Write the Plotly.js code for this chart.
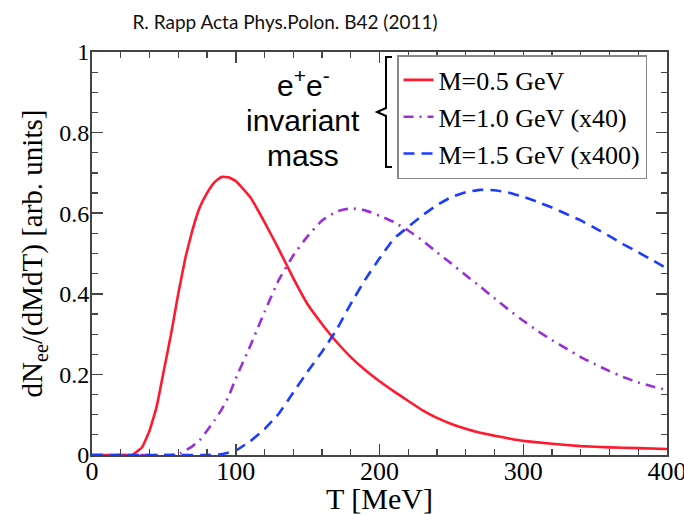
<!DOCTYPE html>
<html>
<head>
<meta charset="utf-8">
<script src="https://cdn.plot.ly/plotly-3.0.1.min.js"></script>
<style>html,body{margin:0;padding:0;background:#fff;}#chart{width:684px;height:515px;}</style>
</head>
<body>
<div id="chart"></div>
<script>
// Temperature grid [MeV] and dilepton rates (arb. units)
const T_red = [0, 10, 20, 28, 35, 40, 45, 50, 55, 60, 65, 70, 75, 80, 85, 90, 95, 100, 110, 120, 130, 140, 150, 160, 170, 180, 190, 200, 210, 220, 230, 240, 250, 260, 270, 280, 290, 300, 320, 340, 360, 380, 400];
const y_red = [0, 0, 0, 0, 0.02, 0.06, 0.12, 0.21, 0.30, 0.40, 0.49, 0.56, 0.615, 0.65, 0.676, 0.69, 0.689, 0.68, 0.64, 0.578, 0.51, 0.439, 0.374, 0.325, 0.281, 0.243, 0.211, 0.183, 0.158, 0.134, 0.111, 0.092, 0.077, 0.065, 0.055, 0.048, 0.041, 0.035, 0.028, 0.022, 0.019, 0.017, 0.015];

const T_purple = [0, 20, 40, 55, 62, 70, 75, 80, 85, 90, 95, 100, 110, 120, 130, 140, 150, 160, 170, 180, 190, 200, 210, 220, 230, 240, 250, 260, 270, 280, 290, 300, 310, 320, 330, 340, 350, 360, 370, 380, 390, 400];
const y_purple = [0, 0, 0, 0, 0.005, 0.022, 0.037, 0.06, 0.085, 0.112, 0.145, 0.19, 0.27, 0.355, 0.435, 0.495, 0.543, 0.582, 0.604, 0.612, 0.607, 0.594, 0.578, 0.557, 0.532, 0.503, 0.475, 0.446, 0.418, 0.389, 0.36, 0.333, 0.308, 0.285, 0.264, 0.243, 0.225, 0.208, 0.193, 0.18, 0.17, 0.161];

const T_blue = [0, 20, 40, 60, 80, 90, 100, 110, 120, 130, 140, 150, 160, 170, 180, 190, 200, 210, 220, 230, 240, 250, 260, 270, 280, 290, 300, 310, 320, 330, 340, 350, 360, 370, 380, 390, 400];
const y_blue = [0, 0, 0, 0, 0, 0.002, 0.011, 0.034, 0.064, 0.103, 0.155, 0.207, 0.256, 0.31, 0.375, 0.435, 0.488, 0.537, 0.566, 0.595, 0.62, 0.64, 0.652, 0.658, 0.657, 0.651, 0.641, 0.628, 0.614, 0.598, 0.582, 0.563, 0.543, 0.522, 0.503, 0.483, 0.463];

const seriesNames = ["M=0.5 GeV", "M=1.0 GeV (x40)", "M=1.5 GeV (x400)"];
const xTickVals = [0, 100, 200, 300, 400];
const yTickVals = [0, 0.2, 0.4, 0.6, 0.8, 1];
const yTickText = ["0", "0.2", "0.4", "0.6", "0.8", "1"];

const serif = "Liberation Serif, Times New Roman, serif";
const sans = "Liberation Sans, Arial, sans-serif";

const traces = [
  {x: T_red, y: y_red, name: seriesNames[0], mode: "lines",
   line: {color: "#ff1a2e", width: 2.6, shape: "spline", smoothing: 0.3}},
  {x: T_purple, y: y_purple, name: seriesNames[1], mode: "lines",
   line: {color: "#9a2fd8", width: 2.6, dash: "10px,6px,2px,6px", shape: "spline", smoothing: 0.3}},
  {x: T_blue, y: y_blue, name: seriesNames[2], mode: "lines",
   line: {color: "#1c3cff", width: 2.6, dash: "11px,7px", shape: "spline", smoothing: 0.3}}
];

const L = 92, R = 667, TOP = 52, BOT = 455;
const px = v => (v - L) / (R - L);
const py = v => (BOT - v) / (BOT - TOP);

const axisCommon = {
  showgrid: false, zeroline: false, showline: true, linecolor: "#444", linewidth: 2,
  mirror: "allticks", ticks: "inside", ticklen: 11, tickwidth: 1.5, tickcolor: "#444",
  ticklabeloverflow: "allow"
};

const layout = {
  width: 684, height: 515,
  margin: {l: L, r: 684 - R, t: TOP, b: 515 - BOT},
  paper_bgcolor: "#fff", plot_bgcolor: "#fff",
  showlegend: true,
  title: {text: "R. Rapp Acta Phys.Polon. B42 (2011)", x: 285/684, xanchor: "center", y: 1 - 22/515, yanchor: "middle",
          font: {family: "Lato, Carlito, sans-serif", size: 19, color: "#111"}},
  xaxis: Object.assign({}, axisCommon, {
    range: [0, 400], tickvals: xTickVals, ticktext: xTickVals.map(String),
    tickfont: {family: serif, size: 26, color: "#000"},
    ticklabelstandoff: -8,
    minor: {dtick: 20, ticks: "inside", ticklen: 6, tickwidth: 1.2, tickcolor: "#444"},
    title: {text: "T [MeV]", font: {family: serif, size: 30, color: "#000"}, standoff: 2}
  }),
  yaxis: Object.assign({}, axisCommon, {
    range: [0, 1], tickvals: yTickVals, ticktext: yTickText,
    tickfont: {family: serif, size: 24, color: "#000"},
    ticklabelstandoff: -4,
    minor: {dtick: 0.05, ticks: "inside", ticklen: 6, tickwidth: 1.2, tickcolor: "#444"},
    title: {text: "dN<sub>ee</sub>/(dMdT) [arb. units]", font: {family: serif, size: 29, color: "#000"}, standoff: 8}
  }),
  legend: {
    x: px(397), y: py(55), xanchor: "left", yanchor: "top",
    bgcolor: "#fff", bordercolor: "#888", borderwidth: 1.5,
    font: {family: serif, size: 26, color: "#000"},
    itemwidth: 30, tracegroupgap: 0
  },
  annotations: [
    {xref: "paper", yref: "paper", x: px(303), y: py(83), text: "e<sup>+</sup>e<sup>-</sup>", showarrow: false,
     xanchor: "center", yanchor: "middle", font: {family: sans, size: 30, color: "#000"}},
    {xref: "paper", yref: "paper", x: px(303), y: py(121), text: "invariant", showarrow: false,
     xanchor: "center", yanchor: "middle", font: {family: sans, size: 30, color: "#000"}},
    {xref: "paper", yref: "paper", x: px(303), y: py(155), text: "mass", showarrow: false,
     xanchor: "center", yanchor: "middle", font: {family: sans, size: 30, color: "#000"}}
  ],
  shapes: [
    {type: "path", xref: "paper", yref: "paper",
     path: `M ${px(392)} ${py(57)} L ${px(386)} ${py(57)} L ${px(386)} ${py(108)} L ${px(377)} ${py(112)} L ${px(386)} ${py(116)} L ${px(386)} ${py(167)} L ${px(392)} ${py(167)}`,
     line: {color: "#000", width: 2}}
  ]
};

Plotly.newPlot("chart", traces, layout, {displayModeBar: false, staticPlot: true});
</script>
</body>
</html>
